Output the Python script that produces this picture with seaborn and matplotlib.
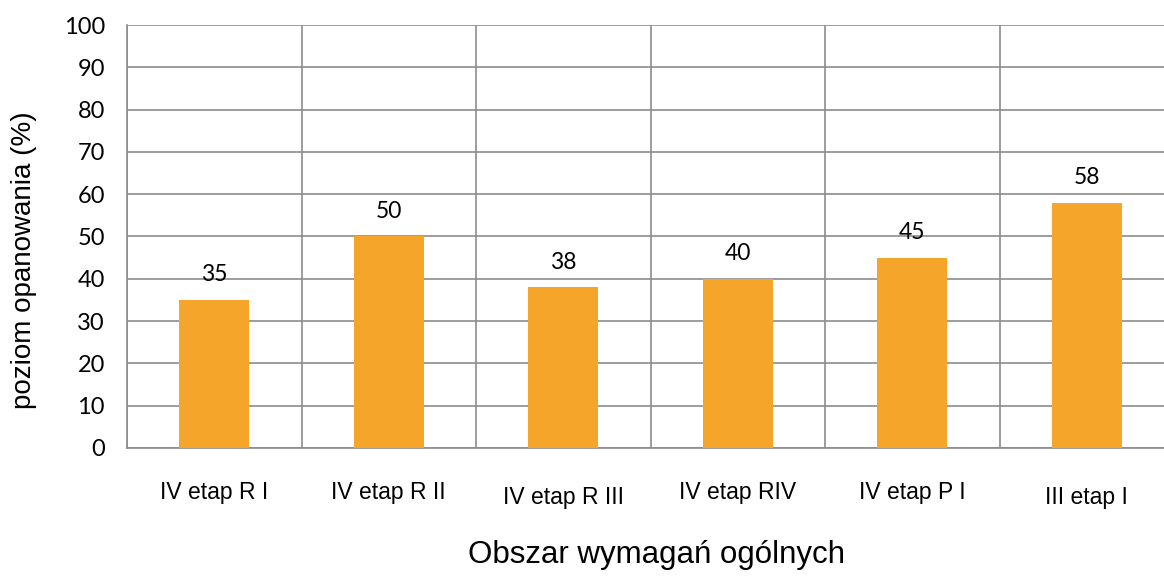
import matplotlib.pyplot as plt
import matplotlib.transforms as mtransforms
import seaborn as sns
import numpy as np

categories = ["IV etap R I", "IV etap R II", "IV etap R III", "IV etap RIV", "IV etap P I", "III etap I"]
values = [35, 50, 38, 40, 45, 58]
yticks = list(range(0, 101, 10))

bar_color = "#F6A52B"
grid_color = "#8C8C8C"

sns.set_theme(style="white", rc={"text.color": "black", "axes.labelcolor": "black",
                                 "xtick.color": "black", "ytick.color": "black"})
plt.rcParams["font.family"] = ["Liberation Sans", "DejaVu Sans"]

fig = plt.figure(figsize=(11.64, 5.79), dpi=100)
ax = fig.add_axes([127 / 1164, 1 - 448 / 579, 1047 / 1164, 423 / 579])

sns.barplot(x=categories, y=values, color=bar_color, saturation=1, width=0.4,
            linewidth=0, ax=ax, zorder=3)

ax.set_xlim(-0.5, len(categories) - 0.5)
ax.set_ylim(0, 100)
ax.set_yticks(yticks)
ax.set_xticks(np.arange(len(categories)) - 0.5, minor=True)
ax.yaxis.grid(True, color=grid_color, linewidth=1.2, zorder=0)
ax.xaxis.grid(True, which="minor", color=grid_color, linewidth=1.2, zorder=0)
ax.xaxis.grid(False, which="major")

for side in ["top", "right"]:
    ax.spines[side].set_visible(False)
for side in ["left", "bottom"]:
    ax.spines[side].set_color(grid_color)
    ax.spines[side].set_linewidth(1.2)

ax.tick_params(axis="y", length=7, width=1.2, color=grid_color, labelcolor="black", pad=9, labelsize=17)
ax.tick_params(axis="x", which="both", length=0, pad=24, labelsize=16.5, labelcolor="black")
for lbl in ax.get_yticklabels():
    lbl.set_fontfamily("Lato")

# Excel-like staggering of some category labels
for i, lbl in enumerate(ax.get_xticklabels()):
    if i in (2, 5):
        lbl.set_transform(lbl.get_transform() + mtransforms.ScaledTranslation(0, -5 / 100, fig.dpi_scale_trans))

for i, v in enumerate(values):
    ax.annotate(str(v), (i, v), xytext=(0, 18), textcoords="offset points",
                ha="center", va="center", fontsize=16.5, family="Lato", color="black")

ax.set_xlabel("")
ax.set_ylabel("poziom opanowania (%)", fontsize=20, color="black")
ax.yaxis.set_label_coords(-0.086, 0.444)
fig.text(657 / 1164, 1 - 555 / 579, "Obszar wymagań ogólnych", ha="center", va="center",
         fontsize=22.5, color="black")

fig.savefig("out.png", dpi=100)
